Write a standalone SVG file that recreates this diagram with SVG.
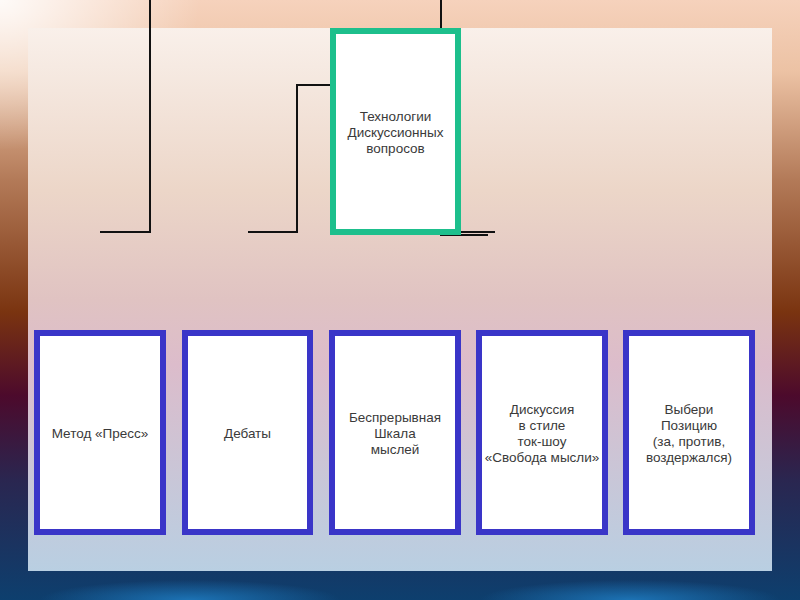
<svg xmlns="http://www.w3.org/2000/svg" width="800" height="600" viewBox="0 0 800 600">
<defs>
<linearGradient id="bg" x1="0" y1="0" x2="0" y2="1">
<stop offset="0" stop-color="#f6d2bc"/>
<stop offset="0.12" stop-color="#ecc2a4"/>
<stop offset="0.3" stop-color="#b37a58"/>
<stop offset="0.52" stop-color="#7a3410"/>
<stop offset="0.66" stop-color="#4c0a2c"/>
<stop offset="0.8" stop-color="#2a2650"/>
<stop offset="1" stop-color="#0d3f6e"/>
</linearGradient>
<radialGradient id="glowTL" cx="0" cy="0" r="0.25" gradientUnits="objectBoundingBox">
<stop offset="0" stop-color="#ffffff" stop-opacity="0.9"/>
<stop offset="1" stop-color="#ffffff" stop-opacity="0"/>
</radialGradient>
<radialGradient id="blueSpot" cx="0.5" cy="1" r="0.5">
<stop offset="0" stop-color="#1e78bc" stop-opacity="0.9"/>
<stop offset="1" stop-color="#1e78bc" stop-opacity="0"/>
</radialGradient>
<linearGradient id="panel" x1="0" y1="0" x2="0" y2="1">
<stop offset="0" stop-color="#f9f0ea"/>
<stop offset="0.3" stop-color="#ecd6c8"/>
<stop offset="0.5" stop-color="#e0c3c2"/>
<stop offset="0.62" stop-color="#dcbccb"/>
<stop offset="1" stop-color="#b9cfe2"/>
</linearGradient>
<style>
.conn{fill:none;stroke:#111;stroke-width:2}
.green{fill:#fff;stroke:#1dbf8c;stroke-width:6}
.blue{fill:#fff;stroke:#3a35c8;stroke-width:6}
.t{font-family:"Liberation Sans",Arial,sans-serif;font-size:13.5px;fill:#3a3a3a;text-anchor:middle}
</style>
</defs>
<rect x="0" y="0" width="800" height="600" fill="url(#bg)"/>
<rect x="0" y="0" width="800" height="600" fill="url(#glowTL)"/>
<rect x="40" y="560" width="300" height="40" fill="url(#blueSpot)"/>
<rect x="480" y="560" width="300" height="40" fill="url(#blueSpot)"/>
<rect x="28" y="28" width="744" height="543" fill="url(#panel)"/>
<g id="connectors">
<polyline class="conn" points="150,0 150,232 100,232"/>
<polyline class="conn" points="330,85 297,85 297,232 248,232"/>
<line class="conn" x1="441" y1="0" x2="441" y2="29"/>
<line class="conn" x1="460" y1="232" x2="495" y2="232"/>
<line class="conn" x1="440" y1="235" x2="488" y2="235"/>
</g>
<g id="root">
<rect class="green" x="333" y="31" width="125" height="201"/>
<text class="t" x="395.5" y="120.5">Технологии</text>
<text class="t" x="395.5" y="136.5">Дискуссионных</text>
<text class="t" x="395.5" y="152.5">вопросов</text>
</g>
<g id="n1">
<rect class="blue" x="37" y="333" width="126" height="199"/>
<text class="t" x="100" y="437.5">Метод «Пресс»</text>
</g>
<g id="n2">
<rect class="blue" x="185" y="333" width="125" height="199"/>
<text class="t" x="247.5" y="437.5">Дебаты</text>
</g>
<g id="n3">
<rect class="blue" x="332" y="333" width="126" height="199"/>
<text class="t" x="395" y="421.5">Беспрерывная</text>
<text class="t" x="395" y="437.5">Шкала</text>
<text class="t" x="395" y="453.5">мыслей</text>
</g>
<g id="n4">
<rect class="blue" x="479" y="333" width="126" height="199"/>
<text class="t" x="542" y="413.5">Дискуссия</text>
<text class="t" x="542" y="429.5">в стиле</text>
<text class="t" x="542" y="445.5">ток-шоу</text>
<text class="t" x="542" y="461.5">«Свобода мысли»</text>
</g>
<g id="n5">
<rect class="blue" x="626" y="333" width="126" height="199"/>
<text class="t" x="689" y="413.5">Выбери</text>
<text class="t" x="689" y="429.5">Позицию</text>
<text class="t" x="689" y="445.5">(за, против,</text>
<text class="t" x="689" y="461.5">воздержался)</text>
</g>
</svg>
